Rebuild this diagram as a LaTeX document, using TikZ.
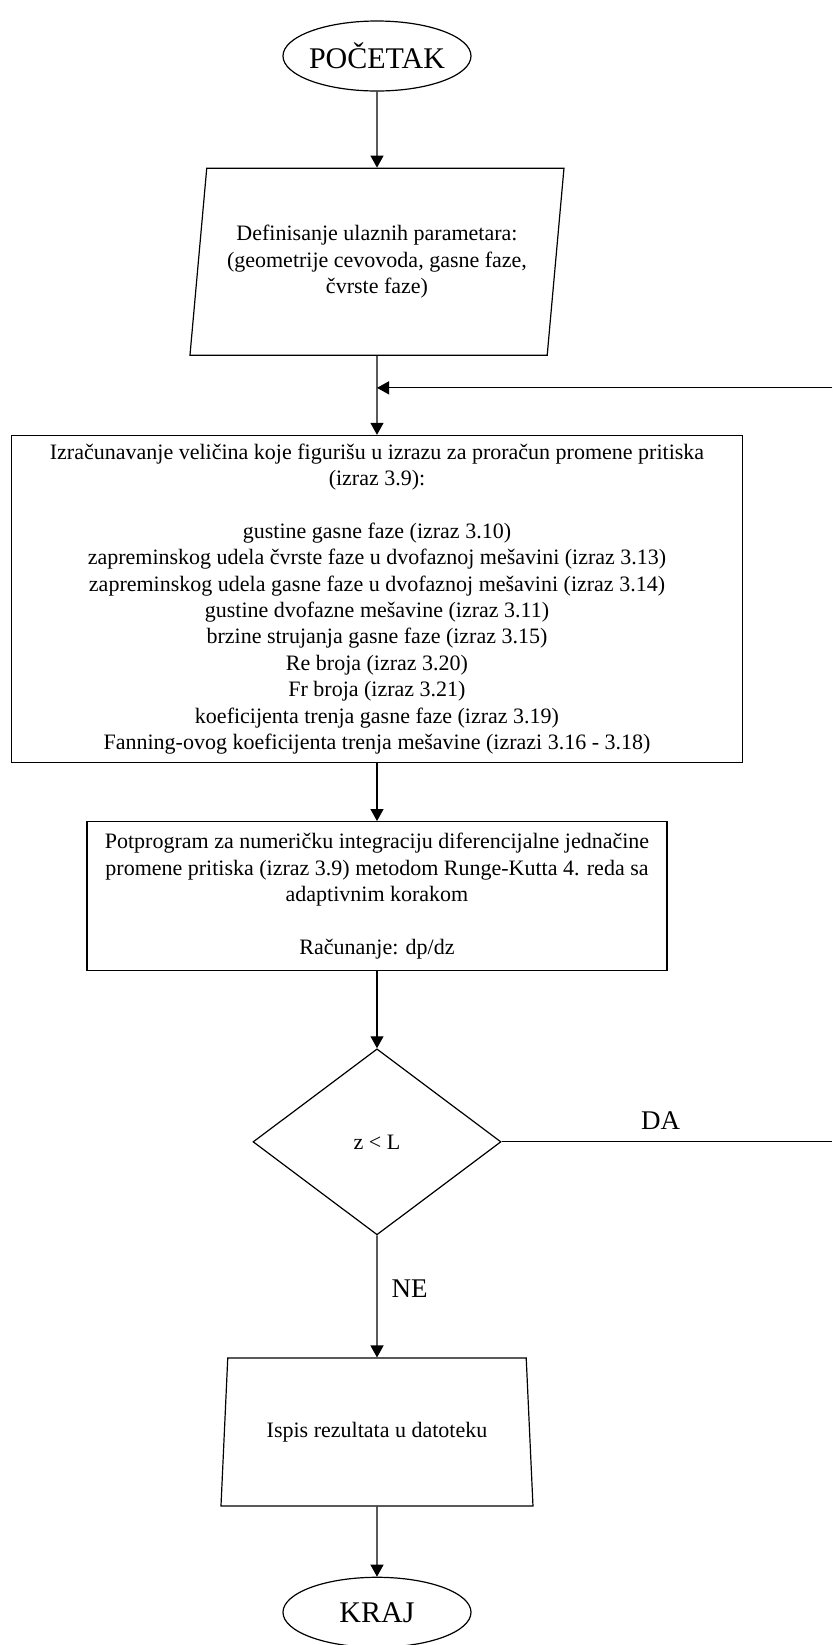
\documentclass[tikz,border=0pt]{standalone}
\usepackage{fontspec}
\setmainfont{Liberation Serif}
\usepackage{tikz}
\usetikzlibrary{arrows.meta, positioning, shapes.geometric}
\newcommand{\boxfont}{\fontsize{11}{13.2}\selectfont}
\tikzset{
  terminal/.style={ellipse, draw, minimum width=94pt, minimum height=35pt,
    inner xsep=-4pt, inner ysep=0pt, font=\fontsize{15}{18}\selectfont},
  inputbox/.style={trapezium, trapezium left angle=79, trapezium right angle=101,
    trapezium stretches body, draw, minimum width=187pt, minimum height=93.5pt,
    align=center, font=\boxfont},
  process/.style={rectangle, draw, align=center, inner sep=2pt, font=\boxfont},
  decision/.style={diamond, draw, aspect=1.33, minimum width=124pt,
    minimum height=93pt, inner sep=0pt, font=\boxfont},
  outputbox/.style={trapezium, trapezium left angle=78.5, trapezium right angle=78.5,
    trapezium stretches body, draw, minimum width=156pt, minimum height=74pt,
    align=center, font=\boxfont},
  answer/.style={inner sep=0pt, font=\fontsize{13.5}{16}\selectfont},
  arrowline/.style={-{Triangle[length=6pt, width=6.5pt]}}
}

\begin{document}
\begin{tikzpicture}[line width=0.6pt]
  \useasboundingbox (0,0) rectangle (416pt,-822.5pt);
  \coordinate (edge) at (416pt,0);

  \node[terminal] (start) at (188.5pt,-28pt) {POČETAK};
  \node[inputbox, below=38pt of start] (input) {Definisanje ulaznih parametara:\\ (geometrije cevovoda, gasne faze,\\ čvrste faze)};
  \coordinate[below=16pt of input] (join);
  \node[process, below=39.5pt of input, minimum width=365.5pt, minimum height=163.5pt] (calc) {Izračunavanje veličina koje figurišu u izrazu za proračun promene pritiska\\ (izraz 3.9):\\[13.2pt]
    gustine gasne faze (izraz 3.10)\\
    zapreminskog udela čvrste faze u dvofaznoj mešavini (izraz 3.13)\\
    zapreminskog udela gasne faze u dvofaznoj mešavini (izraz 3.14)\\
    gustine dvofazne mešavine (izraz 3.11)\\
    brzine strujanja gasne faze (izraz 3.15)\\
    Re broja (izraz 3.20)\\
    Fr broja (izraz 3.21)\\
    koeficijenta trenja gasne faze (izraz 3.19)\\
    Fanning-ovog koeficijenta trenja mešavine (izrazi 3.16 - 3.18)};
  \node[process, below=29pt of calc, minimum width=290pt, minimum height=74.5pt] (sub) {Potprogram za numeričku integraciju diferencijalne jednačine\\ promene pritiska (izraz 3.9) metodom Runge-Kutta 4. reda sa\\ adaptivnim korakom\\[13.2pt] Računanje: dp/dz};
  \node[decision, below=38.5pt of sub] (dec) {z < L};
  \node[outputbox, below=61pt of dec] (out) {Ispis rezultata u datoteku};
  \node[terminal, below=35pt of out] (end) {KRAJ};

  \node[answer, above right=6pt and 69.5pt of dec.east] (da) {DA};
  \node[answer, below right=22pt and 7pt of dec.south] (ne) {NE};

  \draw[arrowline] (start) -- (input);
  \draw[arrowline] (input) -- (calc);
  \draw[arrowline] (join -| edge) -- (join);
  \draw[arrowline] (calc) -- (sub);
  \draw[arrowline] (sub) -- (dec);
  \draw (dec.east) -- (dec -| edge);
  \draw[arrowline] (dec) -- (out);
  \draw[arrowline] (out) -- (end);
\end{tikzpicture}
\end{document}
